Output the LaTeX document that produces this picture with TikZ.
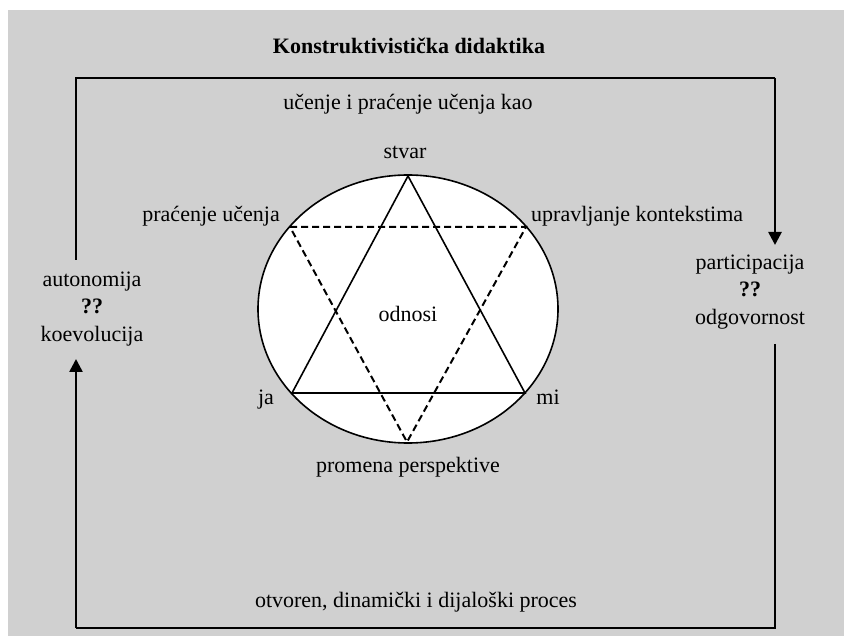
\documentclass[tikz,border=0pt]{standalone}
\usepackage{fontspec}
\setmainfont{Liberation Serif}
\usetikzlibrary{arrows.meta}
\definecolor{bg}{RGB}{208,208,208}
\begin{document}
\begin{tikzpicture}[x=1pt,y=-1pt,
  lbl/.style={font=\fontsize{22}{27.5}\selectfont, inner sep=0pt, anchor=base},
  blk/.style={font=\fontsize{22}{27.5}\selectfont, inner sep=0pt, align=center},
  thinline/.style={line width=1.6pt},
  thickarrow/.style={line width=2.6pt, -{Triangle[length=13pt,width=13pt]}},
  dashline/.style={line width=2pt, dash pattern=on 7pt off 4pt}]
\useasboundingbox (0,0) rectangle (844,636);
\fill[white] (0,0) rectangle (844,636);
\fill[bg] (8,10) rectangle (844,636);

% frame corners and free ends
\coordinate (tl) at (76,78);
\coordinate (tr) at (775,78);
\coordinate (bl) at (76,628);
\coordinate (br) at (775,628);
\coordinate (la) at (76,260);
\coordinate (ra) at (775,245);
\coordinate (lb) at (76,359);
\coordinate (rb) at (775,344);

\node[lbl, font=\fontsize{22}{28}\selectfont\bfseries] (title) at (409,54) {Konstruktivistička didaktika};
\node[lbl] (top) at (408,110) {učenje i praćenje učenja kao};
\node[lbl] (bottom) at (416,607) {otvoren, dinamički i dijaloški proces};

\node[blk] (auto) at (92,309) {autonomija\\\textbf{??}\\koevolucija};
\node[blk] (part) at (750,292) {participacija\\\textbf{??}\\odgovornost};

\draw[thinline] (la) -- (tl) -- (tr);
\draw[thickarrow] (tr) -- (ra);
\draw[thinline] (rb) -- (br) -- (bl);
\draw[thickarrow] (bl) -- (lb);

% ellipse and star
\draw[thinline, fill=white] (408,309) ellipse [x radius=150pt, y radius=134pt];
\coordinate (stv) at (408,176);
\coordinate (vja) at (292,393);
\coordinate (vmi) at (525,393);
\coordinate (vpl) at (290,227);
\coordinate (vpu) at (526,227);
\coordinate (vpp) at (407,442);
\draw[thinline] (stv) -- (vmi) -- (vja) -- cycle;
\draw[dashline] (vpl) -- (vpu) -- (vpp) -- cycle;

\node[lbl] (stvar) at (405,159) {stvar};
\node[lbl, anchor=base east] (pu) at (280,222) {praćenje učenja};
\node[lbl, anchor=base west] (uk) at (531,222) {upravljanje kontekstima};
\node[lbl] (odnosi) at (408,322) {odnosi};
\node[lbl] (ja) at (266,405) {ja};
\node[lbl] (mi) at (548,405) {mi};
\node[lbl] (pp) at (408,472) {promena perspektive};
\end{tikzpicture}
\end{document}
